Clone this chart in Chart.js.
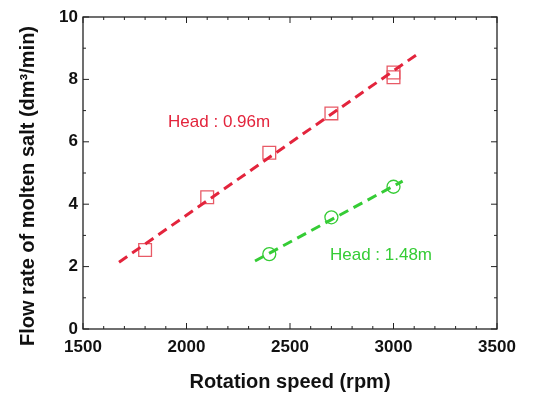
<!DOCTYPE html>
<html>
<head>
<meta charset="utf-8">
<script src="https://cdn.jsdelivr.net/npm/chart.js@4/dist/chart.umd.min.js"></script>
<style>
    html, body { margin: 0; padding: 0; background: #fff; }
    #wrap { width: 550px; height: 396px; }
</style>
</head>
<body>
<div id="wrap"><canvas id="flowChart" width="550" height="396"></canvas></div>
<script>
const speedHead096 = [1800, 2100, 2400, 2700, 3000, 3000];
const flowHead096 = [2.53, 4.22, 5.65, 6.91, 8.22, 8.07];
const speedHead148 = [2400, 2700, 3000];
const flowHead148 = [2.40, 3.58, 4.56];

// Fitted lines (end points)
const fitSpeed096 = [1674, 3120];
const fitFlow096 = [2.14, 8.83];
const fitSpeed148 = [2331, 3044];
const fitFlow148 = [2.18, 4.74];

// Axis ticks
const xTicks = [1500, 2000, 2500, 3000, 3500];
const yTicks = [0, 2, 4, 6, 8, 10];
const xMinorStep = 100;
const yMinorStep = 1;

// Labels placed in data coordinates
const headLabels = ['Head : 0.96m', 'Head : 1.48m'];
const headLabelSpeed = [1911, 2693];
const headLabelFlow = [6.63, 2.37];

const RED = '#e3243c';
const RED_MARK = '#e85a66';
const GREEN = '#35cc35';
const FONT = '"Liberation Sans", Arial, sans-serif';

function toPoints(xs, ys) {
    return xs.map(function (v, i) { return { x: v, y: ys[i] }; });
}

// Frame, inward ticks, in-plot labels and the y-axis title
const plotDecorations = {
    id: 'plotDecorations',
    afterDatasetsDraw(chart) {
        const ctx = chart.ctx;
        const a = chart.chartArea;
        const xs = chart.scales.x;
        const ys = chart.scales.y;
        ctx.save();
        ctx.strokeStyle = '#222';
        ctx.lineWidth = 1.3;
        ctx.strokeRect(a.left, a.top, a.right - a.left, a.bottom - a.top);

        ctx.beginPath();
        for (let v = xs.min; v <= xs.max; v += xMinorStep) {
            const px = xs.getPixelForValue(v);
            const len = xTicks.includes(v) ? 6 : 3;
            ctx.moveTo(px, a.bottom); ctx.lineTo(px, a.bottom - len);
            ctx.moveTo(px, a.top); ctx.lineTo(px, a.top + len);
        }
        for (let v = ys.min; v <= ys.max; v += yMinorStep) {
            const py = ys.getPixelForValue(v);
            const len = yTicks.includes(v) ? 6 : 3;
            ctx.moveTo(a.left, py); ctx.lineTo(a.left + len, py);
            ctx.moveTo(a.right, py); ctx.lineTo(a.right - len, py);
        }
        ctx.lineWidth = 1;
        ctx.stroke();

        // Head labels
        ctx.font = '17px ' + FONT;
        ctx.textBaseline = 'middle';
        ctx.textAlign = 'left';
        const colors = [RED, GREEN];
        headLabels.forEach(function (txt, i) {
            ctx.fillStyle = colors[i];
            ctx.fillText(txt, xs.getPixelForValue(headLabelSpeed[i]), ys.getPixelForValue(headLabelFlow[i]));
        });

        // Y axis title
        ctx.translate(28, 186);
        ctx.rotate(-Math.PI / 2);
        ctx.textAlign = 'center';
        ctx.fillStyle = '#111';
        ctx.font = 'bold 20px ' + FONT;
        ctx.fillText('Flow rate of molten salt (dm\u00b3/min)', 0, 0);
        ctx.restore();
    }
};

const ctx = document.getElementById('flowChart').getContext('2d');
const flowChart = new Chart(ctx, {
    type: 'scatter',
    data: {
        datasets: [
            {
                label: 'Fit 0.96m',
                data: toPoints(fitSpeed096, fitFlow096),
                showLine: true,
                borderColor: RED,
                borderWidth: 3,
                borderDash: [10, 6],
                pointRadius: 0
            },
            {
                label: 'Fit 1.48m',
                data: toPoints(fitSpeed148, fitFlow148),
                showLine: true,
                borderColor: GREEN,
                borderWidth: 3,
                borderDash: [10, 6],
                pointRadius: 0
            },
            {
                label: 'Head 0.96m',
                data: toPoints(speedHead096, flowHead096),
                pointStyle: 'rect',
                pointRadius: 9,
                borderColor: RED_MARK,
                backgroundColor: 'rgba(0,0,0,0)',
                borderWidth: 1.3
            },
            {
                label: 'Head 1.48m',
                data: toPoints(speedHead148, flowHead148),
                pointStyle: 'circle',
                pointRadius: 6.5,
                borderColor: GREEN,
                backgroundColor: 'rgba(0,0,0,0)',
                borderWidth: 1.3
            }
        ]
    },
    options: {
        responsive: false,
        animation: false,
        layout: {
            padding: { left: 0, right: 53, top: 17, bottom: 0 }
        },
        plugins: {
            legend: { display: false },
            tooltip: { enabled: false }
        },
        scales: {
            x: {
                type: 'linear',
                min: xTicks[0],
                max: xTicks[xTicks.length - 1],
                afterBuildTicks: function (scale) {
                    scale.ticks = xTicks.map(function (v) { return { value: v }; });
                },
                afterFit: function (scale) { scale.height = 67; },
                grid: { display: false, drawTicks: false },
                border: { display: false },
                ticks: {
                    padding: 8,
                    color: '#111',
                    maxRotation: 0,
                    callback: function (value) { return String(value); },
                    font: { family: FONT, size: 17, weight: 'bold' }
                },
                title: {
                    display: true,
                    text: 'Rotation speed (rpm)',
                    color: '#111',
                    padding: { top: 0, bottom: 2 },
                    font: { family: FONT, size: 20, weight: 'bold' }
                }
            },
            y: {
                type: 'linear',
                min: yTicks[0],
                max: yTicks[yTicks.length - 1],
                afterBuildTicks: function (scale) {
                    scale.ticks = yTicks.map(function (v) { return { value: v }; });
                },
                afterFit: function (scale) { scale.width = 83; },
                grid: { display: false, drawTicks: false },
                border: { display: false },
                ticks: {
                    padding: 5,
                    color: '#111',
                    callback: function (value) { return String(value); },
                    font: { family: FONT, size: 17, weight: 'bold' }
                }
            }
        }
    },
    plugins: [plotDecorations]
});
</script>
</body>
</html>
